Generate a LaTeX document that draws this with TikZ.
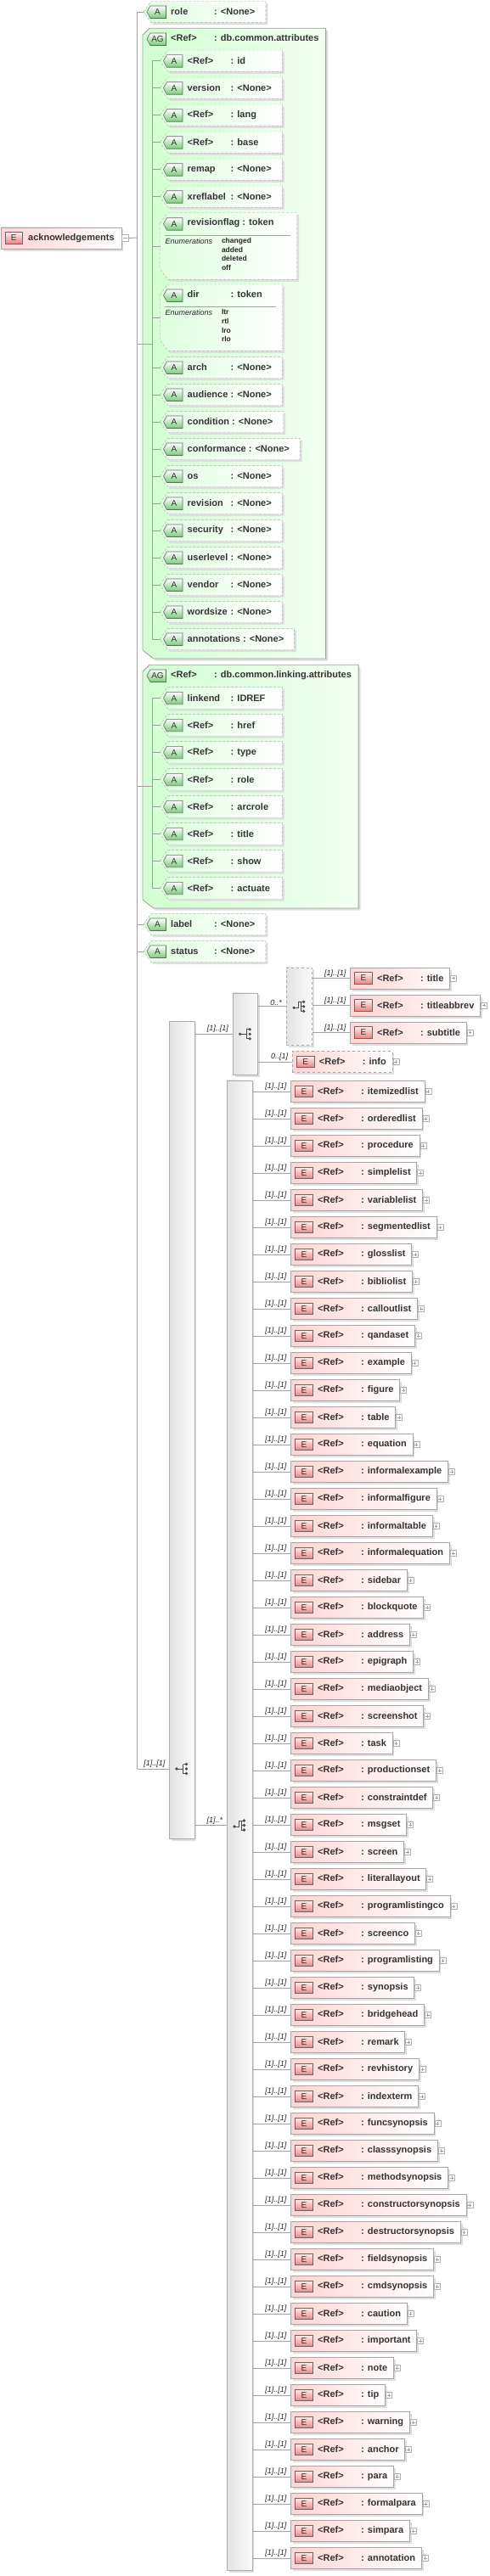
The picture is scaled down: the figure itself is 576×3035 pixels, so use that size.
\documentclass[tikz,border=0pt]{standalone}
\usepackage{fontspec}
\setmainfont{Liberation Sans}
\usetikzlibrary{backgrounds,shadows}

\definecolor{agreen}{RGB}{118,204,118}
\definecolor{ered}{RGB}{236,128,128}
\definecolor{linegray}{RGB}{160,160,160}

% text field of a minimum width
\newbox\fldbox
\newcommand{\fld}[2]{\setbox\fldbox=\hbox{#2}\ifdim\wd\fldbox<#1\relax\hbox to #1{\box\fldbox\hss}\else\box\fldbox\fi}

% attribute icon
\newcommand{\aicn}[4]{%
  \shadedraw[aicon] (#1+4,#2) -- ++(4,-7) -- ++(18.5,0) -- ++(0,14.5) -- ++(-18.5,0) -- cycle;
  \node[aletter] (#4) at (#1+16.5,#2+0.3) {#3};}

% attribute: name, tip x, y, field, type
\newcommand{\attr}[5]{%
  \coordinate (#1_tip) at (#2,#3);
  \node[atext, anchor=west] (#1) at (#2+9,#3) {\fld{134.5pt}{\hspace{23pt}\fld{51pt}{#4\ }: #5\kern12pt}};
  \begin{pgfonlayer}{background}
    \shadedraw[aface] (#1_tip) -- (#1.north west) -- (#1.north east) -- (#1.south east) -- (#1.south west) -- cycle;
  \end{pgfonlayer}
  \aicn{#2}{#3}{A}{#1_i}}

% attribute with enumerations: name, tip x, top, bottom, right, field, type, values
\newcommand{\attrtall}[8]{%
  \coordinate (#1_tip) at (#2,{(#3+#4)/2});
  \node[atext, anchor=west, minimum height=0pt] (#1) at (#2+32,#3+12) {\fld{51pt}{#6\ }: #7};
  \begin{pgfonlayer}{background}
    \shadedraw[aface] (#2,#3+12.5) -- (#2+9,#3) -- (#5,#3) -- (#5,#4) -- (#2+9,#4) -- (#2,#4-12.5) -- cycle;
  \end{pgfonlayer}
  \aicn{#2}{#3+13}{A}{#1_i}
  \draw[sepline] (#2+5,#3+26.6) -- (#5-8,#3+26.6);
  \node[enumlbl] (#1_e) at (#2+6,#3+30) {Enumerations};
  \node[enumval] (#1_v) at (#2+72.3,#3+29.5) {#8};}

% element reference: [style], name, left x, y, text
\newcommand{\elem}[5][]{%
  \node[ebox, #1, anchor=west] (#2) at (#3,#4) {\hspace{31.7pt}\fld{51pt}{<Ref>\ }: #5\kern7pt};
  \node[eicon] (#2_i) at ([xshift=15.7pt]#2.west) {E};
  \node[plusbox] (#2_x) at ([xshift=0.6pt]#2.east) {};}

% compositor symbols
\newcommand{\seqsym}[1]{%
  \begin{scope}[shift={(#1)}]
    \draw[icnline] (-6,0) -- (1.5,0) (1.5,-5.5) -- (1.5,5.5) (1.5,-5.5) -- (5,-5.5) (1.5,5.5) -- (5,5.5);
    \fill[icn] (-6,0) circle (1.8) (5.5,-5.5) circle (1.8) (5.5,0) circle (1.8) (5.5,5.5) circle (1.8);
  \end{scope}}
\newcommand{\chcsym}[1]{%
  \begin{scope}[shift={(#1)}]
    \draw[icnline] (-6,1.5) -- (-1,1.5) -- (-1,-5.5) -- (5,-5.5) (2,-5.5) -- (2,5.5) (2,0) -- (5,0) (2,5.5) -- (5,5.5);
    \fill[icn] (-6,1.5) circle (1.8) (5.5,-5.5) circle (1.8) (5.5,0) circle (1.8) (5.5,5.5) circle (1.8);
  \end{scope}}

\begin{document}
\begin{tikzpicture}[
    x=1pt, y=-1pt,
    conn/.style = {draw=linegray, line width=0.9pt},
    card/.style = {font=\fontsize{9}{9}\selectfont\itshape, text=black!85, inner sep=1pt, anchor=south east, pos=1, xshift=-3.5pt},
    shd/.style = {drop shadow={shadow xshift=2.5pt, shadow yshift=-2.5pt, fill=black!13, opacity=1}},
    atext/.style = {font=\fontsize{11}{13}\selectfont\bfseries, text=black!80, inner sep=0pt, minimum height=25pt},
    aface/.style = {shd, left color=green!13, right color=white, draw=gray!65, dash pattern=on 3pt off 2pt},
    agface/.style = {shd, left color=green!18, right color=white!95!green, draw=gray!75, line width=0.8pt},
    aicon/.style = {top color=white, bottom color=agreen, draw=black!60, line width=0.6pt},
    aletter/.style = {font=\fontsize{10}{10}\selectfont, text=black!80, inner sep=0pt},
    ebox/.style = {shd, draw=gray!70, left color=red!17, right color=white, inner sep=0pt, minimum height=25pt,
                   font=\fontsize{11}{13}\selectfont\bfseries, text=black!80},
    eicon/.style = {draw=black!60, top color=red!8, bottom color=ered, minimum width=21pt, minimum height=13.5pt,
                    inner sep=0pt, line width=0.6pt, font=\fontsize{10}{10}\selectfont, text=black!80},
    plusbox/.style = {draw=gray!60, fill=white, minimum size=7pt, inner sep=0pt, anchor=west,
                      path picture={\draw[gray!75, line width=0.6pt]
                        ([xshift=1.6pt]path picture bounding box.west) -- ([xshift=-1.6pt]path picture bounding box.east)
                        ([yshift=-1.6pt]path picture bounding box.north) -- ([yshift=1.6pt]path picture bounding box.south);}},
    minusbox/.style = {draw=gray!60, fill=white, minimum size=8pt, inner sep=0pt, anchor=west,
                       path picture={\draw[gray!75, line width=0.6pt]
                         ([xshift=1.6pt]path picture bounding box.west) -- ([xshift=-1.6pt]path picture bounding box.east);}},
    compbox/.style = {shd, draw=gray!65, left color=gray!22, right color=gray!4, inner sep=0pt},
    icn/.style = {fill=black!70},
    icnline/.style = {draw=black!70, line width=0.8pt},
    sepline/.style = {draw=gray!70, line width=0.8pt},
    enumlbl/.style = {font=\fontsize{9}{9}\selectfont\itshape, text=black!85, inner sep=0pt, anchor=north west},
    enumval/.style = {font=\fontsize{8.5}{10.7}\selectfont\bfseries, text=black!85, inner sep=0pt, anchor=north west, align=left}
]
\useasboundingbox (0,0) rectangle (576,3035);

% root element
\node[ebox, anchor=west, minimum height=25.6pt] (ack) at (1,280.5) {\hspace{32pt}acknowledgements\kern8.3pt};
\node[eicon, minimum width=20.3pt, minimum height=14pt] (ack_i) at ([xshift=15.3pt]ack.west) {E};
\node[minusbox] (ack_x) at ([xshift=0.3pt]ack.east) {};
\coordinate (trunk) at (161.6,280);

% attribute group db.common.attributes
\node[atext, anchor=west, minimum height=0pt] (ag1_t) at (201,45) {\fld{51pt}{<Ref>\ }: db.common.attributes};
\coordinate (ag1_r) at ([xshift=8pt]ag1_t.east);
\begin{pgfonlayer}{background}
  \shadedraw[agface] (168,41.3) -- (176,33.3) -- (ag1_r |- 0,33.3) -- (ag1_r |- 0,776) -- (181,776) -- (168,766) -- cycle;
\end{pgfonlayer}
\aicn{169}{46}{AG}{ag1_i}
\coordinate (ag1j) at (179,405);

\foreach \nm/\fl/\ty [count=\k] in {id/<Ref>/id, version/version/<None>, lang/<Ref>/lang,
    base/<Ref>/base, remap/remap/<None>, xreflabel/xreflabel/<None>}
  {\attr{\nm}{188.5}{39.7+32*\k}{\fl}{\ty}}
\attrtall{revisionflag}{188.5}{250.7}{329.3}{349.7}{revisionflag}{token}{changed\\added\\deleted\\off}
\attrtall{dir}{188.5}{335}{413.3}{332.5}{dir}{token}{ltr\\rtl\\lro\\rlo}
\foreach \nm [count=\k] in {arch,audience,condition,conformance,os,revision,security,userlevel,vendor,wordsize,annotations}
  {\attr{\nm}{188.5}{401+32*\k}{\nm}{<None>}}

% attribute group db.common.linking.attributes
\node[atext, anchor=west, minimum height=0pt] (ag2_t) at (201,795.3) {\fld{51pt}{<Ref>\ }: db.common.linking.attributes};
\coordinate (ag2_r) at ([xshift=8pt]ag2_t.east);
\begin{pgfonlayer}{background}
  \shadedraw[agface] (168,791.3) -- (176,783.3) -- (ag2_r |- 0,783.3) -- (ag2_r |- 0,1070) -- (181,1070) -- (168,1060) -- cycle;
\end{pgfonlayer}
\aicn{169}{796}{AG}{ag2_i}
\coordinate (ag2j) at (179,926);

\foreach \fl/\ty [count=\k] in {linkend/IDREF, <Ref>/href, <Ref>/type, <Ref>/role,
    <Ref>/arcrole, <Ref>/title, <Ref>/show, <Ref>/actuate}
  {\attr{lk_\ty}{188.5}{790.3+32*\k}{\fl}{\ty}}

% own attributes
\attr{o_role}{169}{14}{role}{<None>}
\attr{o_label}{169}{1089}{label}{<None>}
\attr{o_status}{169}{1121}{status}{<None>}

% content model
\node[compbox, minimum width=29.4pt, minimum height=963pt] (seq1) at (214,1684.5) {};
\coordinate (seq1_in) at (199.3,2084);
\node[compbox, minimum width=29.3pt, minimum height=96.7pt] (seq2) at (288.7,1218.3) {};
\node[compbox, minimum width=29.5pt, minimum height=1755.6pt] (chc) at (282,2150.5) {};
\node[compbox, dashed, minimum width=30.4pt, minimum height=91.7pt] (chc2) at (352.2,1185.8) {};
\seqsym{214,2084}
\seqsym{288.7,1218.3}
\chcsym{282,2150.5}
\chcsym{352.2,1185.8}

\foreach \nm [count=\k] in {title,titleabbrev,subtitle}
  {\elem{\nm}{412.2}{1120.5+32*\k}{\nm}
   \draw[conn] (chc2.east |- \nm.west) -- (\nm.west) node[card] {[1]..[1]};}
\elem[dashed]{info}{344}{1251}{info}

\foreach \nm [count=\k] in {itemizedlist,orderedlist,procedure,simplelist,variablelist,segmentedlist,
    glosslist,bibliolist,calloutlist,qandaset,example,figure,table,equation,informalexample,
    informalfigure,informaltable,informalequation,sidebar,blockquote,address,epigraph,mediaobject,
    screenshot,task,productionset,constraintdef,msgset,screen,literallayout,programlistingco,
    screenco,programlisting,synopsis,bridgehead,remark,revhistory,indexterm,funcsynopsis,
    classsynopsis,methodsynopsis,constructorsynopsis,destructorsynopsis,fieldsynopsis,cmdsynopsis,
    caution,important,note,tip,warning,anchor,para,formalpara,simpara,annotation}
  {\elem{el\k}{342.3}{1254+32*\k}{\nm}
   \draw[conn] (el\k.west -| chc.east) -- (el\k.west) node[card] {[1]..[1]};}

% connectors
\draw[conn] (ack_x.east) -- (trunk);
\draw[conn] (trunk |- o_role_tip) -- (trunk |- seq1_in);
\draw[conn] (trunk |- o_role_tip) -- (o_role_tip);
\draw[conn] (trunk |- ag1j) -- (ag1j);
\draw[conn] (trunk |- ag2j) -- (ag2j);
\draw[conn] (trunk |- o_label_tip) -- (o_label_tip);
\draw[conn] (trunk |- o_status_tip) -- (o_status_tip);
\draw[conn] (trunk |- seq1_in) -- (seq1_in) node[card] {[1]..[1]};

\draw[conn] (ag1j |- id_tip) -- (ag1j |- annotations_tip);
\foreach \nm in {id,version,lang,base,remap,xreflabel,revisionflag,dir,arch,audience,condition,
    conformance,os,revision,security,userlevel,vendor,wordsize,annotations}
  \draw[conn] (ag1j |- \nm_tip) -- (\nm_tip);
\draw[conn] (ag2j |- lk_IDREF_tip) -- (ag2j |- lk_actuate_tip);
\foreach \ty in {IDREF,href,type,role,arcrole,title,show,actuate}
  \draw[conn] (ag2j |- lk_\ty_tip) -- (lk_\ty_tip);

\draw[conn] (seq1.east |- seq2.west) -- (seq2.west) node[card] {[1]..[1]};
\draw[conn] (seq1.east |- chc.west) -- (chc.west) node[card] {[1]..*};
\draw[conn] (seq2.east |- chc2.west) -- (chc2.west) node[card] {0..*};
\draw[conn] (seq2.east |- info.west) -- (info.west) node[card] {0..[1]};
\end{tikzpicture}
\end{document}
